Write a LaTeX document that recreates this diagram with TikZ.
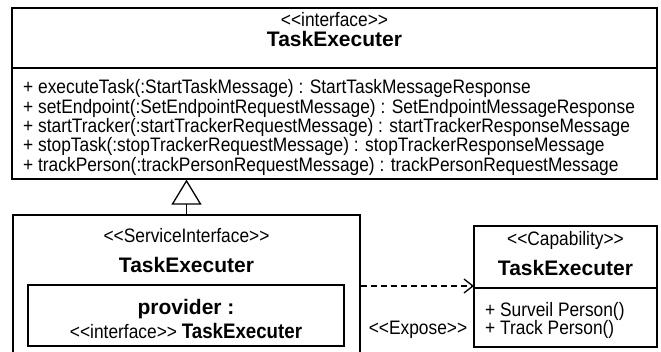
\documentclass[tikz,border=0pt]{standalone}
\usepackage{fontspec}
\setmainfont{Liberation Sans}[Ligatures=TeXOff]
\newfontfamily\narrowsans{Liberation Sans}[Ligatures=TeXOff,FakeStretch=0.89]
\usetikzlibrary{arrows.meta}

\begin{document}
\begin{tikzpicture}[x=1pt,y=-1pt,
  umlbox/.style={draw,line width=1.3pt,rectangle,inner sep=0pt},
  divline/.style={line width=1.3pt},
  txt/.style={inner sep=0pt,anchor=base,font=\fontsize{19.5}{20}\narrowsans},
  ttl/.style={inner sep=0pt,anchor=base,font=\fontsize{21}{24}\selectfont\bfseries},
  mth/.style={txt,anchor=base west}]
\useasboundingbox (0,0) rectangle (661,352);
\clip (0,0) rectangle (661,352);
% interface
\node[umlbox,minimum width=645pt,minimum height=171pt] (iface) at (334.5,93.5) {};
\coordinate (ifacediv) at (12,68);
\draw[divline] (ifacediv) -- (ifacediv -| iface.east);
\node[txt] (ifacest) at (334.5,26.5) {<<interface>>};
\node[ttl] (ifacename) at (334.5,46.5) {TaskExecuter};
\node[mth] (m1) at (23,94) {+ executeTask(:StartTaskMessage) : StartTaskMessageResponse};
\node[mth] (m2) at (23,113.3) {+ setEndpoint(:SetEndpointRequestMessage) : SetEndpointMessageResponse};
\node[mth] (m3) at (23,132.6) {+ startTracker(:startTrackerRequestMessage) : startTrackerResponseMessage};
\node[mth] (m4) at (23,151.9) {+ stopTask(:stopTrackerRequestMessage) : stopTrackerResponseMessage};
\node[mth] (m5) at (23,171.2) {+ trackPerson(:trackPersonRequestMessage) : trackPersonRequestMessage};
% service interface
\node[umlbox,minimum width=347pt,minimum height=155pt] (svc) at (186.5,292.5) {};
\node[txt] (svcst) at (186.5,243) {<<ServiceInterface>>};
\node[ttl] (svcname) at (186.5,273) {TaskExecuter};
\node[umlbox,minimum width=316pt,minimum height=61pt] (prov) at (186,315.5) {};
\node[ttl] (provname) at (186,314.5) {provider :};
\node[txt] (provtype) at (186,339) {<<interface>> {\fontsize{21}{24}\selectfont\bfseries TaskExecuter}};
% capability
\node[umlbox,minimum width=183pt,minimum height=121pt] (cap) at (565.5,286.5) {};
\coordinate (capdiv) at (474,288);
\draw[divline] (capdiv) -- (capdiv -| cap.east);
\node[txt] (capst) at (565.5,246) {<<Capability>>};
\node[ttl] (capname) at (565.5,276) {TaskExecuter};
\node[mth] (c1) at (485,316.5) {+ Surveil Person()};
\node[mth] (c2) at (485,335) {+ Track Person()};
% relations
\draw[line width=1.3pt,-{Triangle[open,length=25pt,width=30pt]}] (svc.north) -- (svc.north |- iface.south);
\coordinate (expose) at (474,286);
\draw[line width=1.3pt,dash pattern=on 6pt off 4pt,-{Straight Barb[length=9pt,width=14pt]}] (expose -| svc.east) -- (expose);
\node[txt] (exposelbl) at (418,335) {<<Expose>>};
\end{tikzpicture}
\end{document}
